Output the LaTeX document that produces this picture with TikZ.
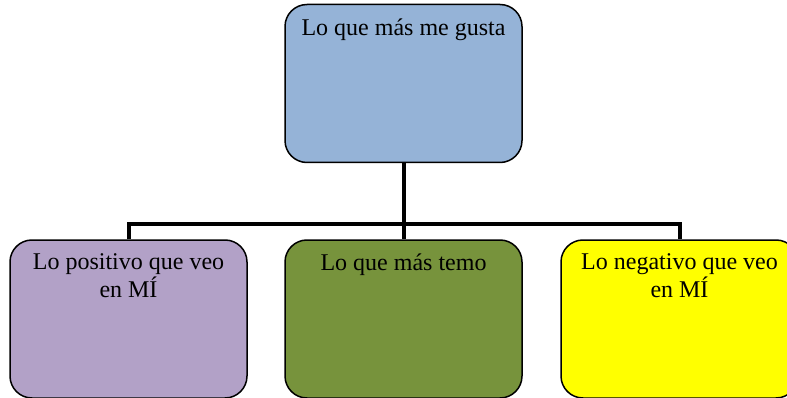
\documentclass[tikz,border=0pt]{standalone}
\usepackage{fontspec}
\setmainfont{Liberation Serif}
\usepackage{tikz}
\definecolor{box_blue}{HTML}{95B3D7}
\definecolor{box_purple}{HTML}{B2A1C7}
\definecolor{box_green}{HTML}{77933C}
\definecolor{box_yellow}{HTML}{FFFF00}

\begin{document}
\begin{tikzpicture}[
            x=1pt,
            y=1pt,
            box/.style={draw, line width=1.5pt, rounded corners=22pt, minimum width=237pt, minimum height=158pt, inner sep=0pt},
            boxtext/.style={anchor=base, align=center, inner sep=0pt, font=\fontsize{24}{28}\selectfont},
            conn/.style={line width=4pt, line join=miter}
        ]
            \useasboundingbox (0,0) rectangle (787,-398);

            % Draw the boxes
            \node[box, fill=box_blue] (gusta) at (403.5,-83.5) {};
            \node[box, fill=box_purple] (positivo) at (128.5,-319) {};
            \node[box, fill=box_green] (temo) at (403.5,-319) {};
            \node[box, fill=box_yellow] (negativo) at (679.5,-319) {};

            % Connectors (drawn from box to box)
            \draw[conn] (gusta.south) -- (temo.north);
            \draw[conn] (positivo.north) -- ++(0,15) -| (negativo.north);

            % Texts at the top of each box (base = last line)
            \node[boxtext] (gustatext) at ([yshift=-32pt]gusta.north) {Lo que más me gusta};
            \node[boxtext] (positivotext) at ([yshift=-58pt]positivo.north) {Lo positivo que veo\\en MÍ};
            \node[boxtext] (temotext) at ([yshift=-31pt]temo.north) {Lo que más temo};
            \node[boxtext] (negativotext) at ([yshift=-58pt]negativo.north) {Lo negativo que veo\\en MÍ};
        \end{tikzpicture}
\end{document}
